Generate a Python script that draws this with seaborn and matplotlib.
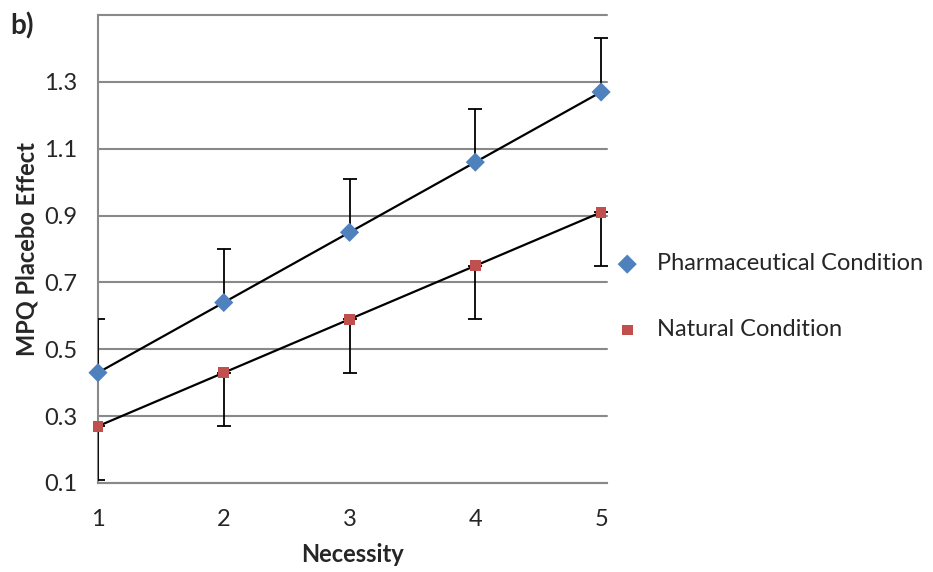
import numpy as np
import pandas as pd
import seaborn as sns
import matplotlib.pyplot as plt

# data
necessity = [1, 2, 3, 4, 5]
pharma = [0.43, 0.64, 0.85, 1.06, 1.27]
natural = [0.27, 0.43, 0.59, 0.75, 0.91]
pharma_err = [0.16, 0.16, 0.16, 0.16, 0.16]
natural_err = [0.16, 0.16, 0.16, 0.16, 0.16]
yticks = [0.1, 0.3, 0.5, 0.7, 0.9, 1.1, 1.3, 1.5]
ylabels = ['0.1', '0.3', '0.5', '0.7', '0.9', '1.1', '1.3', '']

df = pd.DataFrame({'Necessity': necessity, 'pharma': pharma, 'natural': natural})

sns.set_style('white')
plt.rcParams['font.family'] = ['Lato', 'DejaVu Sans']

fig = plt.figure(figsize=(9.33, 5.72), dpi=100)
ax = fig.add_axes([0.105, 0.1556, 0.546, 0.818])

grid_c = '#898989'
for y in yticks:
    ax.axhline(y, color=grid_c, lw=1.5, zorder=0, clip_on=False)

# error bars (one-sided)
zeros = [0] * 5
ax.errorbar(necessity, pharma, yerr=[zeros, pharma_err], fmt='none',
            ecolor='black', elinewidth=1.3, capsize=5, capthick=1.3, zorder=3)
ax.errorbar(necessity, natural, yerr=[natural_err, zeros], fmt='none',
            ecolor='black', elinewidth=1.3, capsize=5, capthick=1.3, zorder=3)

# linear trendlines
sns.regplot(data=df, x='Necessity', y='pharma', scatter=False, ci=None, ax=ax,
            line_kws={'color': 'black', 'lw': 1.6, 'zorder': 3})
sns.regplot(data=df, x='Necessity', y='natural', scatter=False, ci=None, ax=ax,
            line_kws={'color': 'black', 'lw': 1.6, 'zorder': 3})

sns.scatterplot(data=df, x='Necessity', y='pharma', marker='D', s=95, color='#4F81BD',
                edgecolor='none', ax=ax, zorder=4, clip_on=False, label='Pharmaceutical Condition')
sns.scatterplot(data=df, x='Necessity', y='natural', marker='s', s=60, color='#C0504D',
                edgecolor='none', ax=ax, zorder=4, clip_on=False, label='Natural Condition')

ax.set_xlim(1, 5.05)
ax.set_ylim(0.1, 1.5)
ax.set_xticks(necessity)
ax.set_yticks(yticks)
ax.set_yticklabels(ylabels)
ax.tick_params(axis='both', direction='out', length=7, width=1.5, color=grid_c,
               labelsize=17, pad=8)
ax.tick_params(axis='x', pad=12)

for s in ['top', 'right']:
    ax.spines[s].set_visible(False)
for s in ['left', 'bottom']:
    ax.spines[s].set_color(grid_c)
    ax.spines[s].set_linewidth(1.5)

ax.set_xlabel('Necessity', fontsize=17, fontweight='bold', labelpad=9)
ax.set_ylabel('MPQ Placebo Effect', fontsize=17, fontweight='bold', labelpad=4)

ax.legend(loc='center left', bbox_to_anchor=(1.0, 0.398), frameon=False, fontsize=17,
          labelspacing=1.9, handlelength=1.0, handletextpad=0.76,
          borderpad=0, borderaxespad=0.34)

fig.text(0.011, 0.955, 'b)', fontsize=20, fontweight='bold', va='center')

fig.savefig('out.png', dpi=100)
